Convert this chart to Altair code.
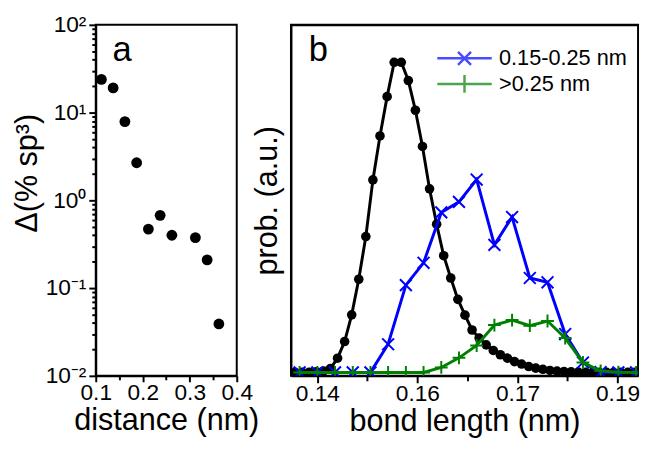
import altair as alt
import pandas as pd

FONT = "Liberation Sans"

# ---------------- panel a data ----------------
dist_nm = [0.112, 0.137, 0.162, 0.187, 0.212, 0.237, 0.262, 0.312, 0.337, 0.362]
delta_sp3 = [23.9, 19.1, 7.9, 2.68, 0.47, 0.675, 0.40, 0.376, 0.21, 0.039]

a_x_major = [0.1, 0.2, 0.3, 0.4]
a_x_labels = ["0.1", "0.2", "0.3", "0.4"]
a_x_minor = [0.15, 0.25, 0.35]
a_y_major = [0.01, 0.1, 1, 10, 100]
a_y_labels = ["10⁻²", "10⁻¹", "10⁰", "10¹", "10²"]
a_y_minor = [0.02, 0.03, 0.04, 0.05, 0.06, 0.07, 0.08, 0.09,
             0.2, 0.3, 0.4, 0.5, 0.6, 0.7, 0.8, 0.9,
             2, 3, 4, 5, 6, 7, 8, 9,
             20, 30, 40, 50, 60, 70, 80, 90]

# ---------------- panel b data ----------------
black_x = [0.14166, 0.14272, 0.14378, 0.14484, 0.14591, 0.14697, 0.14803, 0.14909,
           0.15015, 0.15121, 0.15227, 0.15333, 0.15439, 0.15546, 0.15652, 0.15758,
           0.15864, 0.15970, 0.16076, 0.16182, 0.16288, 0.16394, 0.16500, 0.16607,
           0.16713, 0.16819, 0.16925, 0.17031, 0.17137, 0.17243, 0.17349, 0.17455,
           0.17562, 0.17668, 0.17774, 0.17880, 0.17986, 0.18092, 0.18198, 0.18304,
           0.18410, 0.18517, 0.18623, 0.18729, 0.18835, 0.18941, 0.19047, 0.19153,
           0.19259]
black_p = [0, 0, 0.06, 0.16, 0.47, 1.27, 4.59, 9.97,
           18.6, 30.1, 43.9, 62.2, 76.4, 89.1, 100.2, 100.2,
           94.3, 84.7, 73.0, 59.3, 47.9, 37.7, 30.5, 23.6,
           18.5, 13.7, 11.1, 8.9, 7.1, 5.7, 4.6, 3.5,
           2.7, 1.9, 1.4, 1.0, 0.63, 0.41, 0.25, 0.16,
           0.09, 0.05, 0.03, 0.02, 0.01, 0, 0, 0,
           0]

col_x = [0.14234, 0.14500, 0.14765, 0.15031, 0.15296, 0.15561, 0.15827, 0.16092,
         0.16358, 0.16623, 0.16888, 0.17154, 0.17419, 0.17685, 0.17950, 0.18215,
         0.18481, 0.18746, 0.19012, 0.19277]
blue_p = [0, 0, 0, 0, 0, 9.1, 28.2, 35.4, 51.7, 55.1, 62.3, 41.2, 50.2, 30.5,
          29.1, 12.4, 3.2, 0.06, 0, 0]
green_p = [0, 0, 0, 0, 0, 0, 0, 0, 1.6, 4.7, 8.7, 15.3, 16.9, 15.1, 16.6, 11.1,
           3.2, 0.5, 0.06, 0]

legend_labels = ["0.15-0.25 nm", ">0.25 nm"]
series_colors = ["#0000ff", "#008000"]

b_x_major = [0.145, 0.16, 0.175, 0.19]
b_x_labels = ["0.14", "0.16", "0.17", "0.19"]
b_x_minor = [0.1525, 0.1675, 0.1825]

# marker paths
X_PATH = "M-1,-1L1,1M-1,1L1,-1"
PLUS_PATH = "M-1,0L1,0M0,-1L0,1"
X_LEG = "M-4.6,0L4.6,0M-1.1,-1.1L1.1,1.1M-1.1,1.1L1.1,-1.1"
PLUS_LEG = "M-4.6,0L4.6,0M0,-1.5L0,1.5"

PLOT_H = 356


def label_expr(vals, labs):
    s = "''"
    for v, l in reversed(list(zip(vals, labs))):
        s = f"datum.value == {v} ? '{l}' : ({s})"
    return s


def tick_cond(major, big, small):
    arr = "[" + ",".join(str(v) for v in major) + "]"
    return {"condition": {"test": f"indexof({arr}, datum.value) >= 0", "value": big},
            "value": small}


# ---------------- panel a ----------------
df_a = pd.DataFrame({"d": dist_nm, "v": delta_sp3})
xscale_a = alt.Scale(domain=[a_x_major[0], a_x_major[-1]], nice=False, zero=False)
yscale_a = alt.Scale(type="log", domain=[a_y_major[0], a_y_major[-1]], nice=False)

xa = alt.X("d:Q", scale=xscale_a,
           axis=alt.Axis(values=a_x_major + a_x_minor,
                         labelExpr=label_expr(a_x_major, a_x_labels),
                         tickSize=tick_cond(a_x_major, 6, 4),
                         labelFlush=False, labelOverlap=False,
                         labelPadding=0, title="distance (nm)", titlePadding=1))
ya = alt.Y("v:Q", scale=yscale_a,
           axis=alt.Axis(values=a_y_major + a_y_minor,
                         labelExpr=label_expr(a_y_major, a_y_labels),
                         tickSize=tick_cond(a_y_major, 7, 4),
                         labelOverlap=False, labelFlush=False,
                         labelPadding=3, title="Δ(% sp³)", titlePadding=2,
                         titleFontSize=31, titleY=150))

pts_a = alt.Chart(df_a).mark_circle(size=120, color="black", opacity=1).encode(x=xa, y=ya)

txt_a = alt.Chart(pd.DataFrame({"t": ["a"]})).mark_text(
    font=FONT, fontSize=35, align="left", baseline="alphabetic", color="black"
).encode(x=alt.value(17), y=alt.value(37), text="t:N")

panel_a = alt.layer(pts_a, txt_a).properties(width=143, height=PLOT_H)

# ---------------- panel b ----------------
df_black = pd.DataFrame({"x": black_x, "p": black_p})
df_blue = pd.DataFrame({"x": col_x, "p": blue_p})
df_green = pd.DataFrame({"x": col_x, "p": green_p})

xscale_b = alt.Scale(domain=[0.14105, 0.19307], nice=False, zero=False)
yscale_b = alt.Scale(domain=[-1.11, 112.3], nice=False, zero=False)

yb = alt.Y("p:Q", scale=yscale_b,
           axis=alt.Axis(title="prob. (a.u.)", labels=False, ticks=False,
                         domain=True, titlePadding=8))
xb_bottom = alt.X("x:Q", scale=xscale_b,
                  axis=alt.Axis(values=b_x_major + b_x_minor,
                                labelExpr=label_expr(b_x_major, b_x_labels),
                                tickSize=tick_cond(b_x_major, 7, 5),
                                labelFlush=False, labelOverlap=False,
                                labelPadding=0, title="bond length (nm)", titlePadding=1))
xb_top = alt.X("x:Q", scale=xscale_b,
               axis=alt.Axis(orient="top", labels=False, ticks=False, domain=True, title=None))
xb_none = alt.X("x:Q", scale=xscale_b, axis=None)

black_line = alt.Chart(df_black).mark_line(color="black", strokeWidth=3, clip=True).encode(x=xb_bottom, y=yb)
black_pts = alt.Chart(df_black).mark_circle(size=95, color="black", opacity=1, clip=True).encode(x=xb_top, y=yb)
blue_line = alt.Chart(df_blue).mark_line(color=series_colors[0], strokeWidth=3, clip=True).encode(x=xb_none, y=yb)
blue_pts = alt.Chart(df_blue).mark_point(shape=X_PATH, size=144, filled=False, strokeWidth=2,
                                         color=series_colors[0], opacity=1, clip=True).encode(x=xb_none, y=yb)
green_line = alt.Chart(df_green).mark_line(color=series_colors[1], strokeWidth=3, clip=True).encode(x=xb_none, y=yb)
green_pts = alt.Chart(df_green).mark_point(shape=PLUS_PATH, size=169, filled=False, strokeWidth=2,
                                           color=series_colors[1], opacity=1, clip=True).encode(x=xb_none, y=yb)

leg = alt.Legend(orient="none", legendX=363, legendY=23, title=None, padding=0,
                 labelFont=FONT, labelFontSize=22, labelColor="black",
                 symbolSize=144, symbolStrokeWidth=2.5, labelOffset=24, rowPadding=0)
legend_layer = alt.Chart(pd.DataFrame({"series": legend_labels})).mark_point(
    filled=False, strokeWidth=2.5, size=144
).encode(
    color=alt.Color("series:N", scale=alt.Scale(domain=legend_labels, range=series_colors), legend=leg),
    shape=alt.Shape("series:N", scale=alt.Scale(domain=legend_labels, range=[X_LEG, PLUS_LEG]), legend=leg),
).transform_filter("false")

txt_b = alt.Chart(pd.DataFrame({"t": ["b"]})).mark_text(
    font=FONT, fontSize=35, align="left", baseline="alphabetic", color="black"
).encode(x=alt.value(18), y=alt.value(37), text="t:N")

panel_b = alt.layer(black_line, black_pts, blue_line, blue_pts, green_line, green_pts,
                    legend_layer, txt_b).resolve_axis(x="independent").properties(
    width=352, height=PLOT_H)

chart = alt.hconcat(panel_a, panel_b, spacing=55, bounds="flush").properties(
    padding={"left": 2, "top": 2, "right": 0, "bottom": 0}
).configure_view(stroke="black", strokeWidth=2).configure_axis(
    labelFont=FONT, titleFont=FONT, labelFontSize=23, titleFontSize=31,
    labelColor="black", titleColor="black", titleFontWeight="normal",
    domainColor="black", domainWidth=2, tickColor="black", tickWidth=2, grid=False
)

chart.save("out.html", embed_options={"renderer": "svg", "actions": False})
